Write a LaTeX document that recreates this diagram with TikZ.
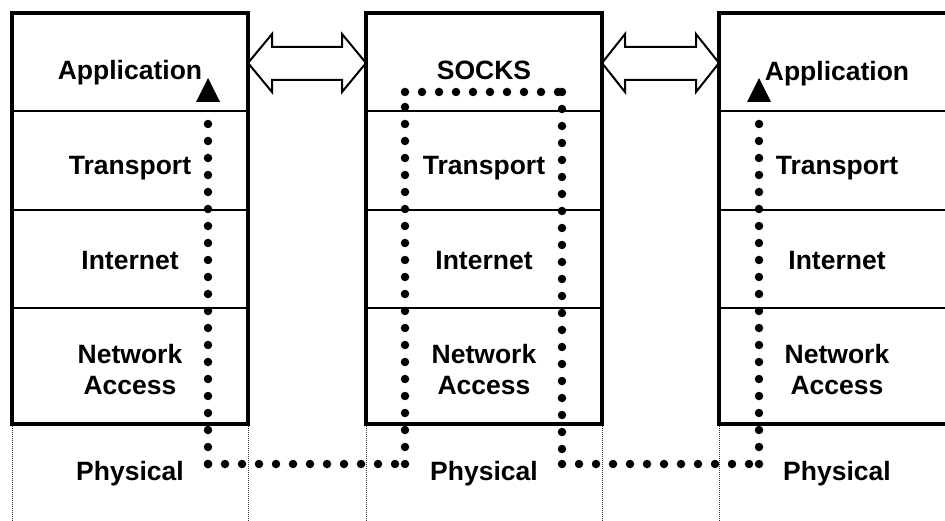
\documentclass[tikz,border=0pt]{standalone}
\usepackage{fontspec}
\setmainfont{Liberation Sans}
\begin{document}
\begin{tikzpicture}[x=1pt,y=-1pt,
  lbl/.style={font=\fontsize{26.5}{31}\selectfont\bfseries, anchor=base, inner sep=0pt},
  outer/.style={line width=4pt},
  sepline/.style={line width=1.6pt},
  physline/.style={line width=1pt, dash pattern=on 1pt off 1pt, black!80},
  route/.style={line width=8.5pt, line cap=round, dash pattern=on 0pt off 17pt},
  tiptri/.style={fill=black},
  dblarrow/.style={line width=2pt, fill=white, line join=miter}]
\useasboundingbox (0,0) rectangle (945,521);
\clip (0,0) rectangle (945,521);

% double block arrows
\draw[dblarrow] (248,63) -- (272,34) -- (272,47) -- (342,47) -- (342,34) -- (366,63)
  -- (342,92) -- (342,80) -- (272,80) -- (272,92) -- cycle;
\draw[dblarrow] (602,63) -- (625,34) -- (625,47) -- (696,47) -- (696,34) -- (719,63)
  -- (696,92) -- (696,80) -- (625,80) -- (625,92) -- cycle;

% stacks
\foreach \x in {12,366,719}{
  \draw[sepline] (\x,111) -- ++(236,0);
  \draw[sepline] (\x,210) -- ++(236,0);
  \draw[sepline] (\x,308) -- ++(236,0);
  \draw[outer] (\x,13) rectangle ++(236,411);
  \draw[physline] (\x,426) -- (\x,521);
  \draw[physline] (\x+236,426) -- (\x+236,521);
}

% labels
\node[lbl] (la) at (130,80) {Application};
\node[lbl] (lt) at (130,175) {Transport};
\node[lbl] (li) at (130,270) {Internet};
\node[lbl] (ln) at (130,363) {Network};
\node[lbl] (lac) at (130,394) {Access};
\node[lbl] (lp) at (130,480) {Physical};

\node[lbl] (ms) at (484,80) {SOCKS};
\node[lbl] (mt) at (484,175) {Transport};
\node[lbl] (mi) at (484,270) {Internet};
\node[lbl] (mn) at (484,363) {Network};
\node[lbl] (mac) at (484,394) {Access};
\node[lbl] (mp) at (484,480) {Physical};

\node[lbl] (ra) at (837,81) {Application};
\node[lbl] (rt) at (837,175) {Transport};
\node[lbl] (ri) at (837,270) {Internet};
\node[lbl] (rn) at (837,363) {Network};
\node[lbl] (rac) at (837,394) {Access};
\node[lbl] (rp) at (837,480) {Physical};

% dotted route
\coordinate (p0) at (208,109);
\coordinate (p1) at (208,464);
\coordinate (p2) at (405,464);
\coordinate (p3) at (405,92);
\coordinate (p4) at (562,92);
\coordinate (p5) at (562,464);
\coordinate (p6) at (759,464);
\coordinate (p7) at (759,109);
\draw[route] (p1) -- (p0);
\draw[route] (p1) -- (p2);
\draw[route] (p2) -- (p3);
\draw[route] (p3) -- (p4);
\draw[route] (p4) -- (p5);
\draw[route] (p5) -- (p6);
\draw[route] (p6) -- (p7);
\fill[tiptri] (196,102) -- (208,78) -- (220,102) -- cycle;
\fill[tiptri] (747,102) -- (759,78) -- (771,102) -- cycle;
\end{tikzpicture}
\end{document}
